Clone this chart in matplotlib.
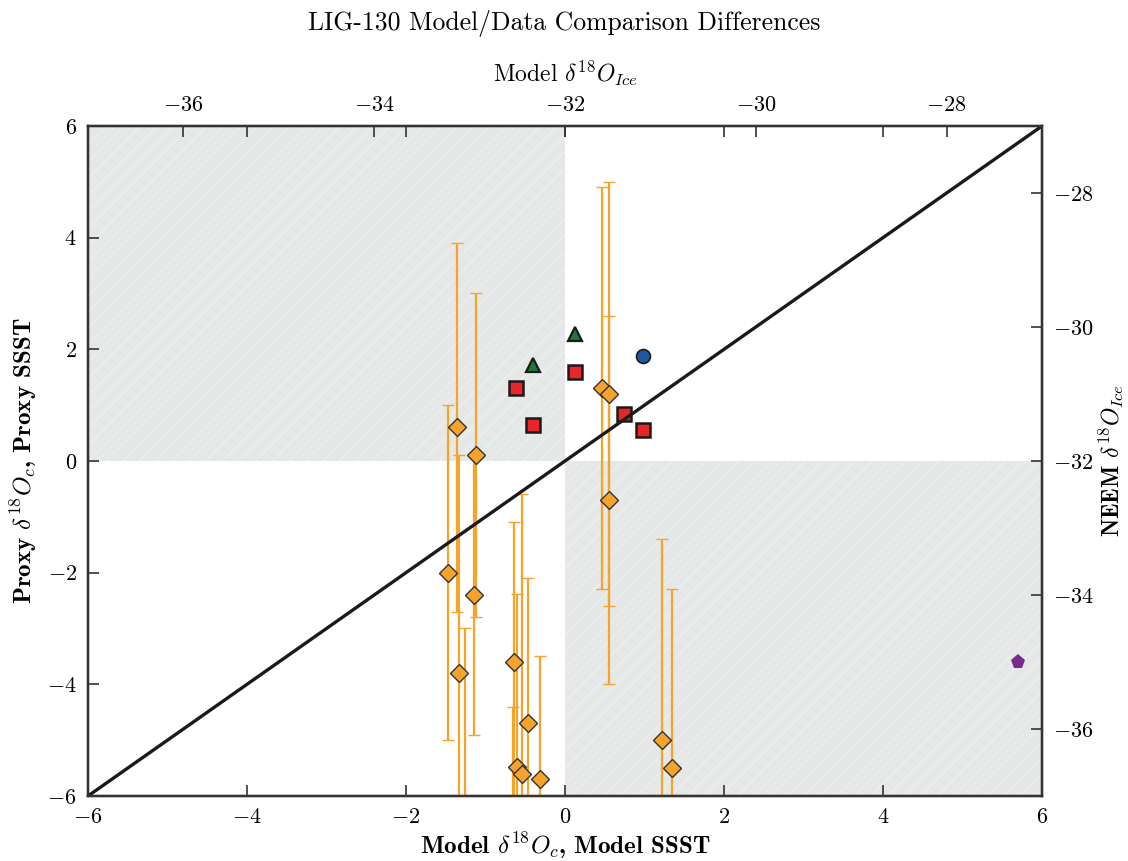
"""LIG-130 model/data comparison: proxy vs model differences with NEEM ice point."""
import matplotlib
matplotlib.use("Agg")
import matplotlib.pyplot as plt

plt.rcParams.update({
    "font.family": "serif",
    "font.serif": ["cmr10"],
    "mathtext.fontset": "cm",
    "axes.formatter.use_mathtext": True,
    "axes.unicode_minus": True,
    "hatch.linewidth": 0.8,
})

# Marine cores: model vs proxy d18Oc / SSST differences (with proxy uncertainty)
core_model = [-1.47, -1.36, -1.12, -1.33, -1.14, -1.26,
              -0.64, -0.61, -0.545, -0.47, -0.31, -0.66,
              0.47, 0.55, 0.555, 1.215, 1.35]
core_proxy = [-2.0, 0.6, 0.1, -3.8, -2.4, -7.0,
              -3.6, -5.48, -5.6, -4.7, -5.7, -6.8,
              1.3, 1.2, -0.7, -5.0, -5.5]
core_err = [3.0, 3.3, 2.9, 3.9, 2.5, 4.0,
            2.5, 3.1, 5.0, 2.6, 2.2, 2.4,
            3.6, 3.8, 3.3, 3.6, 3.2]

sq_model = [-0.62, -0.40, 0.12, 0.74, 0.98]
sq_proxy = [1.31, 0.64, 1.59, 0.84, 0.55]

tri_model = [-0.40, 0.12]
tri_proxy = [1.72, 2.27]

circ_model = [0.985]
circ_proxy = [1.88]

# NEEM ice core (model vs measured d18O ice)
neem_model = [-27.25]
neem_obs = [-35.0]

lim = (-6, 6)
ice_lim = (-37, -27)
ticks = [-6, -4, -2, 0, 2, 4, 6]
ice_ticks = [-36, -34, -32, -30, -28]

ORANGE = "#f6a32b"
RED = "#e8262a"
GREEN = "#1b7a3c"
BLUE = "#1f58a4"
PURPLE = "#7a2a8c"
SHADE = "#e6e8e7"
SPINE = "#333333"

fig = plt.figure(figsize=(11.28, 8.61), dpi=100)
ax = fig.add_axes([0.078, 0.0755, 0.8458, 0.7782])

# shaded disagreement quadrants
for xs, y0, y1 in (([lim[0], 0], 0, lim[1]), ([0, lim[1]], lim[0], 0)):
    ax.fill_between(xs, y0, y1, facecolor=SHADE, edgecolor=(1, 1, 1, 0.35),
                    hatch="//", linewidth=0, zorder=0)

ax.plot(lim, lim, color="#1a1a1a", lw=2.4, zorder=6)

ax.errorbar(core_model, core_proxy, yerr=core_err, fmt="D", color=ORANGE,
            ecolor=ORANGE, elinewidth=1.6, capsize=4.5, capthick=1.4,
            ms=9, mec="#333333", mew=1.0, zorder=3)
ax.plot(sq_model, sq_proxy, "s", color=RED, ms=10, mec="#1a1a1a", mew=1.8, zorder=4)
ax.plot(tri_model, tri_proxy, "^", color=GREEN, ms=10, mec="#1a1a1a", mew=1.6, zorder=4)
ax.plot(circ_model, circ_proxy, "o", color=BLUE, ms=10, mec="#1a1a1a", mew=1.2, zorder=4)

ax.set_xlim(lim)
ax.set_ylim(lim)
ax.set_xticks(ticks)
ax.set_yticks(ticks)
ax.tick_params(direction="in", length=8, width=1.2, labelsize=16,
               top=True, right=True, pad=8, color=SPINE)
ax.set_xlabel(r"Model $\delta^{18}O_c$, Model SSST", fontsize=18,
              fontfamily="cmb10", labelpad=3)
ax.set_ylabel(r"Proxy $\delta^{18}O_c$, Proxy SSST", fontsize=18,
              fontfamily="cmb10", labelpad=6)

ax_r = ax.twinx()
ax_r.set_ylim(ice_lim)
ax_r.set_yticks(ice_ticks)
ax_r.tick_params(direction="in", length=8, width=1.2, labelsize=16, pad=8,
                 color=SPINE)
ax_r.set_ylabel(r"NEEM $\delta^{18}O_{Ice}$", fontsize=17,
                fontfamily="cmb10", labelpad=2)

ax_t = ax_r.twiny()
ax_t.set_xlim(ice_lim)
ax_t.set_xticks(ice_ticks)
ax_t.tick_params(direction="in", length=8, width=1.2, labelsize=16, pad=8,
                 color=SPINE)
ax_t.set_xlabel(r"Model $\delta^{18}O_{Ice}$", fontsize=17, labelpad=10)
ax_t.plot(neem_model, neem_obs, "p", color=PURPLE, ms=11, mew=0, zorder=4)

for a in (ax, ax_r, ax_t):
    for sp in a.spines.values():
        sp.set_color(SPINE)
        sp.set_linewidth(1.6)

fig.suptitle("LIG-130 Model/Data Comparison Differences", fontsize=18.5, y=0.988)

fig.savefig("out.png", dpi=100)
